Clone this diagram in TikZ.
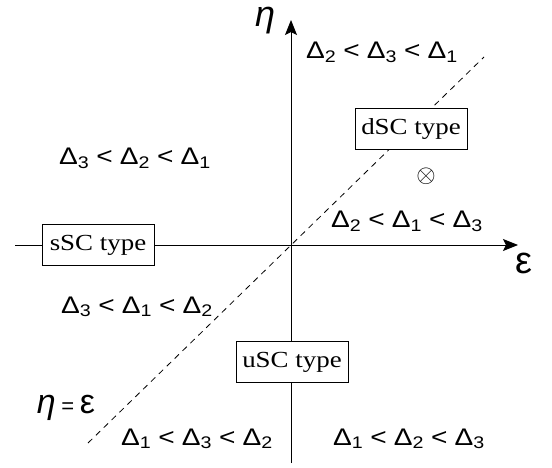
\documentclass[tikz,border=0pt]{standalone}
\usepackage{graphicx}
\usepackage{fontspec}
\setmainfont{Liberation Serif}
\setsansfont{Liberation Sans}
\usepackage{tikz}
\usetikzlibrary{arrows.meta}
\newcommand{\D}[1]{Δ\textsubscript{#1}}
\newcommand{\LT}{\hspace{0.25em}<\hspace{0.25em}}
\newcommand{\ord}[3]{\scalebox{1.17}[1]{\D{#1}\LT\D{#2}\LT\D{#3}}}

\begin{document}
\begin{tikzpicture}[x=1pt, y=-1pt,
  ord/.style={font=\sffamily\fontsize{24}{24}\selectfont, anchor=base, inner sep=0pt},
  typebox/.style={draw, fill=white, line width=0.9pt, font=\fontsize{23}{23}\selectfont,
    minimum width=112pt, minimum height=41pt, inner sep=0pt},
  ax/.style={line width=1pt, -{Stealth[length=15pt, width=12pt, inset=3pt]}}]

  \useasboundingbox (0,0) rectangle (552,468);

  %% axes and the line eta = eps
  \coordinate (O) at (291,245);
  \coordinate (xl) at (15,245);
  \coordinate (xr) at (518,245);
  \coordinate (yb) at (291,463);
  \coordinate (yt) at (291,20);
  \coordinate (dl) at (88,443);
  \coordinate (du) at (484,57);

  \draw[ax] (xl) -- (xr);
  \draw[ax] (yb) -- (yt);
  \draw[dash pattern=on 6pt off 5pt, line width=0.8pt] (dl) -- (du); %% eta=eps

  \node[anchor=base, inner sep=0pt, font=\sffamily\itshape\fontsize{36}{36}\selectfont] (eta) at (265,27) {η};
  \node[anchor=base, inner sep=0pt, font=\sffamily\fontsize{38}{38}\selectfont] (eps) at (524,273) {ε};
  \node[anchor=base, inner sep=0pt, font=\sffamily\fontsize{34}{34}\selectfont] (diag) at (66,413)
    {\textit{η}\,{\fontsize{22}{22}\selectfont=}\,ε};

  %% orderings of the gaps
  \node[ord] (o231) at (382,59) {\ord{2}{3}{1}};
  \node[ord] (o321) at (135,165) {\ord{3}{2}{1}};
  \node[ord] (o213) at (407,228) {\ord{2}{1}{3}};
  \node[ord] (o312) at (137,313) {\ord{3}{1}{2}};
  \node[ord] (o132) at (197,445) {\ord{1}{3}{2}};
  \node[ord] (o123) at (409,445) {\ord{1}{2}{3}};

  %% SC types
  \node[typebox] (dsc) at (411,129) {\scalebox{1.17}[1]{dSC type}};
  \node[typebox] (ssc) at (98,245) {\scalebox{1.17}[1]{sSC type}};
  \node[typebox] (usc) at (292,362) {\scalebox{1.17}[1]{uSC type}};
  \node (pt) at (426,176) {\fontsize{24}{24}\selectfont$\otimes$};
\end{tikzpicture}
\end{document}
